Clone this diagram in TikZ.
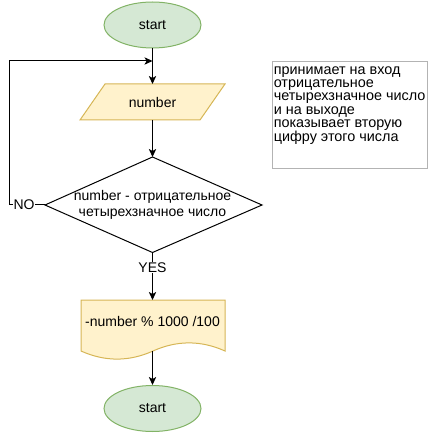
\documentclass[tikz,border=0pt]{standalone}
\usepackage{fontspec}
\setmainfont{Liberation Sans}
\usetikzlibrary{arrows.meta,shapes.geometric}
\definecolor{gfill}{HTML}{D5E8D4}
\definecolor{gline}{HTML}{82B366}
\definecolor{yfill}{HTML}{FFF2CC}
\definecolor{yline}{HTML}{D6B656}
\definecolor{notegray}{HTML}{B3B3B3}
\begin{document}
\begin{tikzpicture}[x=0.75pt,y=-0.75pt,
  every node/.style={font=\fontsize{10.5}{12.5}\selectfont, text=black},
  termnode/.style={ellipse, draw=gline, fill=gfill, line width=0.75pt, minimum width=72.75pt, minimum height=34.5pt, inner sep=0pt},
  flow/.style={draw=black, line width=0.75pt, -{Stealth[length=6pt,width=5.5pt,inset=1.5pt]}},
  lbl/.style={fill=white, inner sep=0.5pt}]
\useasboundingbox (0,0) rectangle (430,434);
% start
\node[termnode] (start) at (152.5,25) {start};
% input parallelogram
\filldraw[draw=yline, fill=yfill, line width=0.75pt] (105,84) -- (225,84) -- (200,120) -- (80,120) -- cycle;
\node (num) at (152.5,102) {number};
\coordinate (numtop) at (152.5,84);
\coordinate (numbot) at (152.5,120);
\coordinate (join) at (152.5,61);
% decision
\draw[black, line width=0.75pt] (152.5,157) -- (262,205) -- (152.5,252.5) -- (45,205) -- cycle;
\coordinate (dtop) at (152.5,157);
\coordinate (dleft) at (45,205);
\coordinate (dbot) at (152.5,252.5);
\node[align=center] (cond) at (152.5,205) {number - отрицательное\\четырехзначное число};
% document
\filldraw[draw=yline, fill=yfill, line width=0.75pt] (81,300) -- (225,300) -- (225,351)
  .. controls (201,340.2) and (177,340.2) .. (153,351)
  .. controls (129,361.8) and (105,361.8) .. (81,351) -- cycle;
\coordinate (doctop) at (152.5,300);
\coordinate (docbot) at (152.5,351);
\node (calc) at (152.5,321) {-number \% 1000 /100};
% end
\node[termnode] (end) at (152.5,408.5) {start};
% note
\draw[notegray, line width=0.75pt] (272,62) rectangle (427,169);
\node[anchor=north west, align=left, inner sep=0pt, font=\fontsize{10.8}{10.1}\selectfont] (note) at (273.5,66) {принимает на вход\\отрицательное\\четырехзначное число\\и на выходе\\показывает вторую\\цифру этого числа};
% connectors
\draw[flow] (start.south) -- (numtop);
\draw[flow] (numbot) -- (dtop);
\coordinate (lc) at (9,205);
\coordinate (lt) at (9,61);
\draw[flow] (dleft) -- node[lbl, pos=0.58] {NO} (lc) -- (lt) -- (join);
\draw[flow] (dbot) -- node[lbl, pos=0.31] {YES} (doctop);
\draw[flow] (docbot) -- (end.north);
\end{tikzpicture}
\end{document}
